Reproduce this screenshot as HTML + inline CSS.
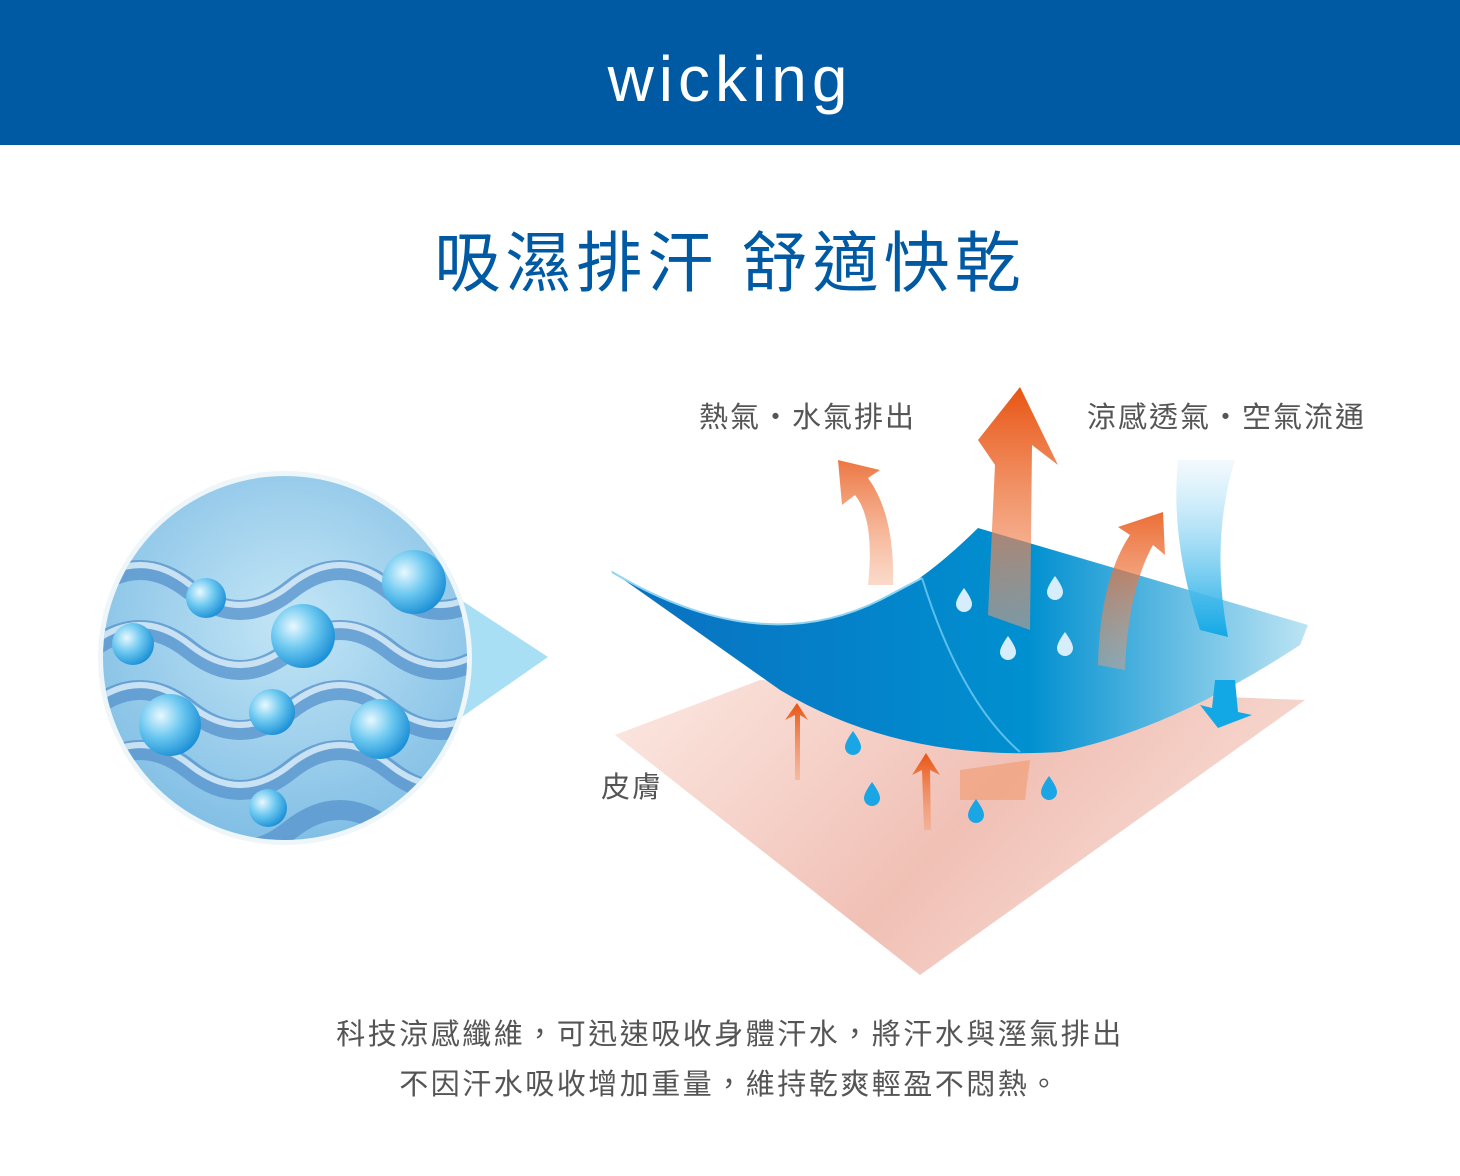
<!DOCTYPE html>
<html><head><meta charset="utf-8"><style>
body{margin:0;width:1460px;height:1176px;background:#fff;overflow:hidden;font-family:"Liberation Sans","Noto Sans CJK TC",sans-serif;position:relative}
.hdr{position:absolute;left:0;top:0;width:1460px;height:145px;background:#005aa3;color:#fff;text-align:center;font-size:64px;line-height:158px;letter-spacing:5px}
.t{position:absolute;left:0;width:1460px;text-align:center}
.l{position:absolute;font-size:29px;color:#555;white-space:nowrap;letter-spacing:2px}
</style></head><body>
<div class="hdr">wicking</div>
<div class="t" style="top:210px;font-size:66px;color:#005aa3;letter-spacing:5px">吸濕排汗 舒適快乾</div>
<svg width="1460" height="1176" style="position:absolute;left:0;top:0">
<defs>
<linearGradient id="sk" x1="0" y1="0" x2="1" y2="0.4"><stop offset="0" stop-color="#fbe6df"/><stop offset="0.6" stop-color="#efb9ad"/><stop offset="1" stop-color="#f7d8cf"/></linearGradient>
<linearGradient id="bl" x1="0" y1="0" x2="1" y2="0"><stop offset="0" stop-color="#0a6fc0"/><stop offset="0.6" stop-color="#0090d0"/><stop offset="1" stop-color="#bde4f4"/></linearGradient>
<linearGradient id="or" x1="0" y1="0" x2="0" y2="1"><stop offset="0" stop-color="#e85412"/><stop offset="1" stop-color="#f5a27a" stop-opacity="0.5"/></linearGradient>
<linearGradient id="ab" x1="0" y1="0" x2="0" y2="1"><stop offset="0" stop-color="#e6f4fc" stop-opacity="0.5"/><stop offset="1" stop-color="#12a8e6"/></linearGradient>
<radialGradient id="cg" cx="0.5" cy="0.4" r="0.6"><stop offset="0" stop-color="#c4e6f6"/><stop offset="1" stop-color="#7fbde4"/></radialGradient>
<radialGradient id="bb" cx="0.35" cy="0.35" r="0.7"><stop offset="0" stop-color="#e8f8ff"/><stop offset="0.5" stop-color="#6cc8f0"/><stop offset="1" stop-color="#1b8fd6"/></radialGradient>
<clipPath id="cc"><circle cx="285" cy="658" r="182"/></clipPath>
</defs>
<polygon points="400,560 548,657 400,760" fill="#a9dff4"/>
<circle cx="285" cy="658" r="187" fill="#eef6fa"/>
<g clip-path="url(#cc)">
<rect x="90" y="470" width="400" height="380" fill="url(#cg)"/>
<g fill="none" stroke="#5b97cf" stroke-width="20" opacity="0.8">
<path d="M90,590 q50,-40 100,0 t100,0 t100,0 t100,0"/>
<path d="M90,650 q50,-40 100,0 t100,0 t100,0 t100,0"/>
<path d="M90,710 q50,-40 100,0 t100,0 t100,0 t100,0"/>
<path d="M90,770 q50,-40 100,0 t100,0 t100,0 t100,0"/>
<path d="M90,830 q50,-40 100,0 t100,0 t100,0 t100,0"/>
</g>
<g fill="none" stroke="#e2f2fb" stroke-width="6" opacity="0.8">
<path d="M90,585 q50,-40 100,0 t100,0 t100,0 t100,0"/>
<path d="M90,645 q50,-40 100,0 t100,0 t100,0 t100,0"/>
<path d="M90,705 q50,-40 100,0 t100,0 t100,0 t100,0"/>
<path d="M90,765 q50,-40 100,0 t100,0 t100,0 t100,0"/>
</g>
</g>
<g fill="url(#bb)">
<circle cx="206" cy="598" r="20"/><circle cx="133" cy="644" r="21"/><circle cx="303" cy="636" r="32"/><circle cx="414" cy="582" r="32"/><circle cx="170" cy="725" r="31"/><circle cx="272" cy="712" r="23"/><circle cx="380" cy="729" r="30"/><circle cx="268" cy="808" r="19"/>
</g>
<polygon points="615,735 760,680 1305,700 920,975" fill="url(#sk)" opacity="0.9"/>
<path d="M795,780 L795,715 L785,720 L797,703 L808,720 L800,715 L800,780Z" fill="url(#or)"/>
<path d="M924,830 L922,770 L912,775 L926,753 L940,775 L930,770 L931,830Z" fill="url(#or)"/>
<path d="M960,770 L1030,760 L1025,800 L960,800Z" fill="#f29a6e" opacity="0.6"/>
<path d="M610,570 Q760,660 880,600 Q920,585 978,528 L1308,625 L1300,645 Q1170,730 1060,752 Q900,762 780,690 Z" fill="url(#bl)"/>
<path d="M612,572 Q760,660 880,600 L922,578" fill="none" stroke="#8fd4f2" stroke-width="2"/>
<path d="M922,578 Q960,700 1020,752" fill="none" stroke="#5cc0ec" stroke-width="2"/>
<path d="M868,585 Q875,520 855,495 L842,505 L838,460 L880,470 L868,478 Q895,515 893,585Z" fill="url(#or)" opacity="0.8"/>
<path d="M988,615 L995,465 L978,440 L1020,387 L1058,465 L1032,445 L1030,630Z" fill="url(#or)"/>
<path d="M1098,665 Q1100,580 1130,535 L1118,527 L1163,512 L1165,555 L1153,545 Q1128,590 1125,670Z" fill="url(#or)" opacity="0.85"/>
<path d="M1178,460 L1235,460 Q1210,540 1228,637 L1200,630 Q1170,540 1178,460Z" fill="url(#ab)"/>
<path d="M1215,680 L1235,680 L1238,712 L1252,715 L1218,728 L1200,705 L1212,708Z" fill="#12a8e6"/>
<g fill="#d6eefb">
<path d="M964,588 q-8,11 -8,16 a8,8 0 0 0 16,0 q0,-5 -8,-16z"/>
<path d="M1055,576 q-8,11 -8,16 a8,8 0 0 0 16,0 q0,-5 -8,-16z"/>
<path d="M1008,636 q-8,11 -8,16 a8,8 0 0 0 16,0 q0,-5 -8,-16z"/>
<path d="M1065,632 q-8,11 -8,16 a8,8 0 0 0 16,0 q0,-5 -8,-16z"/>
</g>
<g fill="#1aa6e4">
<path d="M853,731 q-8,11 -8,16 a8,8 0 0 0 16,0 q0,-5 -8,-16z"/>
<path d="M872,782 q-8,11 -8,16 a8,8 0 0 0 16,0 q0,-5 -8,-16z"/>
<path d="M976,799 q-8,11 -8,16 a8,8 0 0 0 16,0 q0,-5 -8,-16z"/>
<path d="M1049,776 q-8,11 -8,16 a8,8 0 0 0 16,0 q0,-5 -8,-16z"/>
</g>
</svg>
<div class="l" style="left:699px;top:394px">熱氣・水氣排出</div>
<div class="l" style="left:1087px;top:394px">涼感透氣・空氣流通</div>
<div class="l" style="left:601px;top:764px">皮膚</div>
<div class="t" style="top:1010px;font-size:29px;color:#555;line-height:50px;letter-spacing:2.5px">科技涼感纖維，可迅速吸收身體汗水，將汗水與溼氣排出<br>不因汗水吸收增加重量，維持乾爽輕盈不悶熱。</div>
</body></html>
